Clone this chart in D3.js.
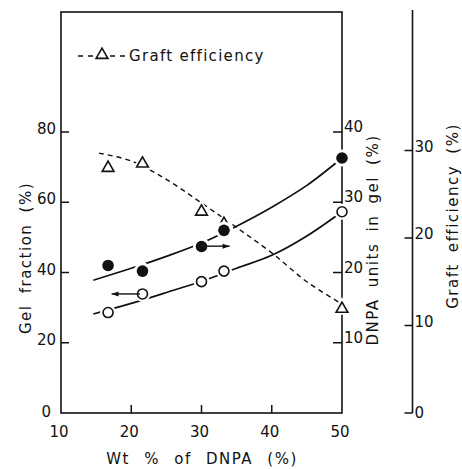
<!DOCTYPE html>
<html>
<head>
<meta charset="utf-8">
<script src="https://cdn.jsdelivr.net/npm/d3@7"></script>
<style>
  body { margin: 0; background: #fff; }
  text { font-family: "DejaVu Sans", sans-serif; fill: #111; }
</style>
</head>
<body>
<svg id="chart" width="462" height="469"></svg>
<script>
// measured points
var wt = [16.7, 21.6, 30, 33.2, 50];
var gelFraction = [28.6, 33.9, 37.4, 40.4, 57.3];   // left axis, open circles
var dnpaInGel = [21.0, 20.2, 23.7, 26.0, 36.3];     // first right axis, filled circles
var graftEff = [28.0, 28.5, 23.0, 21.6, 11.9];      // second right axis, triangles

// fitted curves
var gelFitX = [14.6, 20, 25, 30, 35, 40, 45, 50];
var gelFitY = [28.2, 31.2, 34.3, 37.5, 41.2, 44.9, 50.4, 57.3];
var dnpaFitX = [14.6, 20, 25, 30, 35, 40, 45, 50];
var dnpaFitY = [18.9, 20.6, 22.3, 24.2, 26.6, 29.3, 32.4, 36.3];
var graftFitX = [15.4, 20, 25, 30, 35, 40, 45, 49.7];
var graftFitY = [29.7, 28.8, 26.7, 24.0, 21.2, 18.3, 15.0, 12.6];

var xTicks = [10, 20, 30, 40, 50];
var leftTicks = [0, 20, 40, 60, 80];
var rightTicks = [10, 20, 30, 40];
var graftTicks = [0, 10, 20, 30];

var svg = d3.select("#chart");

var x = d3.scaleLinear().domain([10, 50]).range([61, 342]);
var yL = d3.scaleLinear().domain([0, 80]).range([413, 132]);
var yR = d3.scaleLinear().domain([0, 40]).range([413, 132]);
var yG = d3.scaleLinear().domain([0, 30]).range([413, 150.5]);
var frameTop = 12, gTop = 10;

// frame
svg.append("rect")
  .attr("x", x(10)).attr("y", frameTop)
  .attr("width", x(50) - x(10)).attr("height", yL(0) - frameTop)
  .attr("fill", "none").attr("stroke", "#111").attr("stroke-width", 1.6);

// bottom ticks (inward)
svg.selectAll(".xt").data(xTicks.slice(1, 4)).enter().append("line")
  .attr("x1", d => x(d)).attr("x2", d => x(d))
  .attr("y1", yL(0)).attr("y2", yL(0) - 8)
  .attr("stroke", "#111").attr("stroke-width", 1.5);
svg.selectAll(".xl").data(xTicks).enter().append("text")
  .attr("x", d => x(d) - 2).attr("y", 432)
  .attr("text-anchor", "middle").attr("dominant-baseline", "central")
  .attr("font-size", 15).text(d => d);

// left ticks
svg.selectAll(".lt").data(leftTicks.slice(1)).enter().append("line")
  .attr("x1", x(10)).attr("x2", x(10) + 8)
  .attr("y1", d => yL(d)).attr("y2", d => yL(d))
  .attr("stroke", "#111").attr("stroke-width", 1.5);
svg.selectAll(".ll").data(leftTicks).enter().append("text")
  .attr("x", d => d === 0 ? 51 : 56).attr("y", d => yL(d) - (d === 0 ? 1 : 3))
  .attr("text-anchor", "end").attr("dominant-baseline", "central")
  .attr("font-size", 15).text(d => d);

// first right axis (frame edge), ticks inward
svg.selectAll(".rt").data(rightTicks).enter().append("line")
  .attr("x1", x(50) - 9).attr("x2", x(50))
  .attr("y1", d => yR(d)).attr("y2", d => yR(d))
  .attr("stroke", "#111").attr("stroke-width", 1.5);
svg.selectAll(".rl").data(rightTicks).enter().append("text")
  .attr("x", x(50) + 2).attr("y", d => yR(d) - 5)
  .attr("dominant-baseline", "central")
  .attr("font-size", 15).text(d => d);

// second right axis
var gx = 412.5;
svg.append("line")
  .attr("x1", gx).attr("x2", gx).attr("y1", gTop).attr("y2", yG(0))
  .attr("stroke", "#111").attr("stroke-width", 1.6);
svg.selectAll(".gt").data(graftTicks).enter().append("line")
  .attr("x1", gx - 8).attr("x2", gx)
  .attr("y1", d => yG(d)).attr("y2", d => yG(d))
  .attr("stroke", "#111").attr("stroke-width", 1.5);
svg.selectAll(".gl").data(graftTicks).enter().append("text")
  .attr("x", gx + 2).attr("y", d => yG(d) - (d === 0 ? 0 : 4))
  .attr("dominant-baseline", "central")
  .attr("font-size", 15).text(d => d);

// axis titles
function vTitle(cx, cy, s) {
  svg.append("text")
    .attr("transform", `translate(${cx},${cy}) rotate(-90)`)
    .attr("text-anchor", "middle").attr("dominant-baseline", "central")
    .attr("font-size", 15).attr("letter-spacing", 1.5).attr("word-spacing", 5)
    .text(s);
}
vTitle(26, 258, "Gel fraction (%)");
vTitle(373, 240, "DNPA units in gel (%)");
vTitle(453, 216, "Graft efficiency (%)");
svg.append("text")
  .attr("x", 202).attr("y", 459)
  .attr("text-anchor", "middle").attr("dominant-baseline", "central")
  .attr("font-size", 15).attr("letter-spacing", 1.5).attr("word-spacing", 8)
  .text("Wt % of DNPA (%)");

// curves
var curve = d3.curveCatmullRom.alpha(0.5);
function fit(xs, ys, yScale, dashed) {
  var pts = xs.map((d, i) => [x(d), yScale(ys[i])]);
  svg.append("path")
    .attr("d", d3.line().curve(curve)(pts))
    .attr("fill", "none").attr("stroke", "#111")
    .attr("stroke-width", dashed ? 1.4 : 1.7)
    .attr("stroke-dasharray", dashed ? "5,4" : null);
}
fit(graftFitX, graftFitY, yG, true);
fit(dnpaFitX, dnpaFitY, yR, false);
fit(gelFitX, gelFitY, yL, false);

// markers with white halo to break the lines
var tri = d3.symbol().type(d3.symbolTriangle).size(60);
wt.forEach(function (d, i) {
  svg.append("path").attr("d", tri)
    .attr("transform", `translate(${x(d)},${yG(graftEff[i])})`)
    .attr("fill", "#fff").attr("stroke", "#fff").attr("stroke-width", 5);
  svg.append("path").attr("d", tri)
    .attr("transform", `translate(${x(d)},${yG(graftEff[i])})`)
    .attr("fill", "#fff").attr("stroke", "#111").attr("stroke-width", 1.6);
});
wt.forEach(function (d, i) {
  svg.append("circle").attr("cx", x(d)).attr("cy", yR(dnpaInGel[i])).attr("r", 8.5).attr("fill", "#fff");
  svg.append("circle").attr("cx", x(d)).attr("cy", yR(dnpaInGel[i])).attr("r", 5.8).attr("fill", "#111");
});
wt.forEach(function (d, i) {
  svg.append("circle").attr("cx", x(d)).attr("cy", yL(gelFraction[i])).attr("r", 8).attr("fill", "#fff");
  svg.append("circle").attr("cx", x(d)).attr("cy", yL(gelFraction[i])).attr("r", 5)
    .attr("fill", "#fff").attr("stroke", "#111").attr("stroke-width", 1.6);
});

// arrows pointing to the axis each series belongs to
function arrow(x1, x2, yy) {
  var dir = x2 > x1 ? 1 : -1;
  svg.append("line").attr("x1", x1).attr("x2", x2).attr("y1", yy).attr("y2", yy)
    .attr("stroke", "#111").attr("stroke-width", 1.4);
  svg.append("path")
    .attr("d", `M${x2},${yy} L${x2 - dir * 7},${yy - 2.5} L${x2 - dir * 7},${yy + 2.5} Z`)
    .attr("fill", "#111");
}
arrow(x(30.5), x(34), yR(23.75));
arrow(x(21.25), x(17.2), yL(33.9));

// legend: - - triangle - - Graft efficiency
var ly = 56;
[[78, 94], [110, 126]].forEach(function (seg) {
  svg.append("line").attr("x1", seg[0]).attr("x2", seg[1]).attr("y1", ly).attr("y2", ly)
    .attr("stroke", "#111").attr("stroke-width", 1.5).attr("stroke-dasharray", "5,5");
});
svg.append("path").attr("d", tri).attr("transform", `translate(102,${ly - 1})`)
  .attr("fill", "#fff").attr("stroke", "#111").attr("stroke-width", 1.6);
svg.append("text").attr("x", 129).attr("y", ly)
  .attr("dominant-baseline", "central").attr("font-size", 15).attr("letter-spacing", 1.3)
  .text("Graft efficiency");
</script>
</body>
</html>
